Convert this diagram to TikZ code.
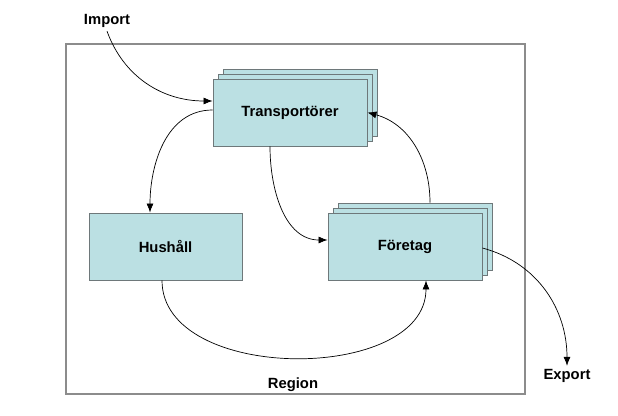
\documentclass[tikz,border=0pt]{standalone}
\usepackage{fontspec}
\setmainfont{Liberation Sans}
\usetikzlibrary{arrows.meta, shadows}

\definecolor{boxfill}{RGB}{187,224,227}
\definecolor{boxline}{RGB}{110,120,122}
\definecolor{framegray}{RGB}{140,140,140}

\begin{document}
\begin{tikzpicture}[x=1pt, y=-1pt, font=\fontsize{14.8}{17}\selectfont\bfseries]

\tikzset{actor/.style = {shape=rectangle, draw=boxline, fill=boxfill, line width=0.9pt, minimum width=154pt, minimum height=67pt}}
\tikzset{stacked/.style = {actor, double copy shadow={shadow xshift=5pt, shadow yshift=5pt}}}
\tikzset{flow/.style = {-{Latex[length=9pt,width=7pt]}, line width=0.7pt}}
\useasboundingbox (0,0) rectangle (618,415);
%region
\draw[framegray, line width=1.2pt] (66,44) rectangle (525,394);
\node (region) at (293,385) {Region};
%actors
\node[stacked] (trans) at (290,112.5) {Transportörer};
\node[stacked] (foretag) at (405,246.5) {Företag};
\node[actor, minimum width=153pt] (hush) at (165.5,246.5) {Hushåll};
\node (import) at (107,21) {Import};
\node (export) at (567,376) {Export};
%flows
\draw[flow] (import.south) to[out=-70, in=180] ([yshift=11.5pt]trans.west);
\draw[flow] ([yshift=2.5pt]trans.west) to[out=180, in=90] ([xshift=-15.5pt]hush.north);
\draw[flow] ([xshift=-20pt]trans.south) to[out=-90, in=180] ([yshift=6.5pt]foretag.west);
\draw[flow] ([xshift=25pt, yshift=10pt]foretag.north) to[out=90, in=-15] (trans.east);
\draw[flow] ([xshift=-3.5pt]hush.south) to[out=-90, in=-90] ([xshift=21pt]foretag.south);
\draw[flow] ([yshift=-1.5pt]foretag.east) to[out=-15, in=90] (export.north);

\end{tikzpicture}
\end{document}
